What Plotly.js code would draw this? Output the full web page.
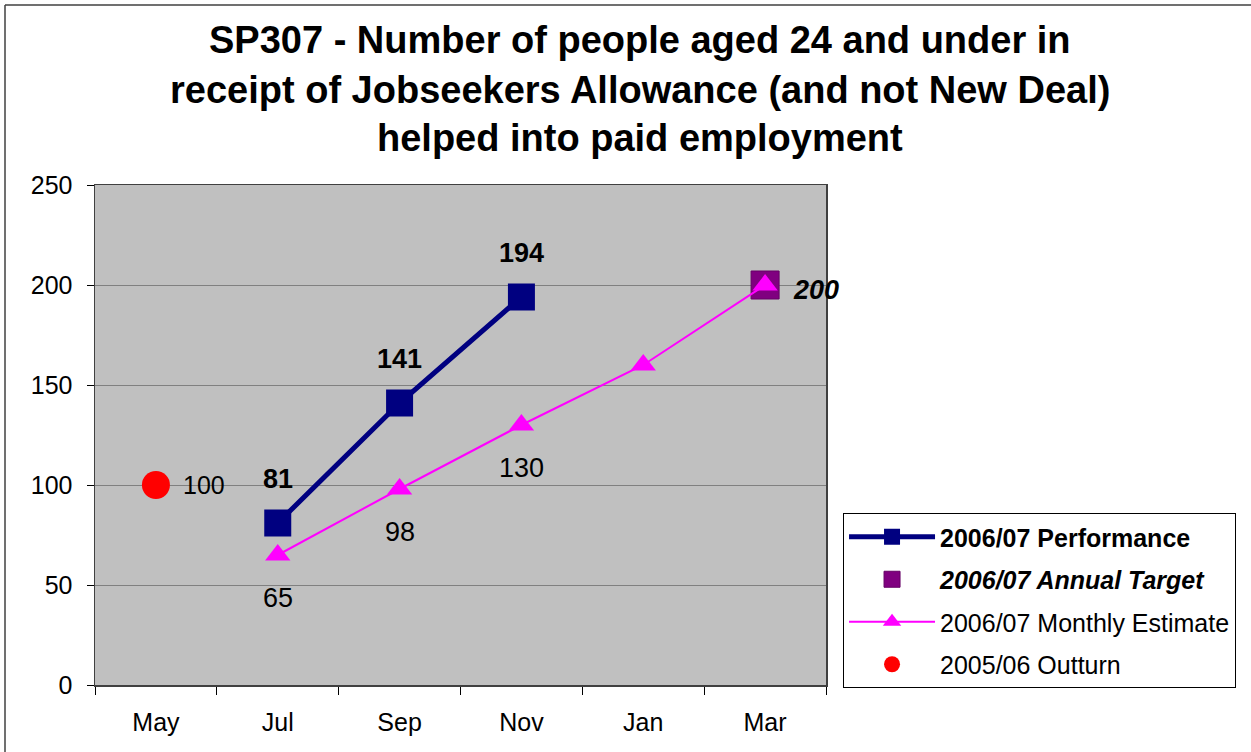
<!DOCTYPE html>
<html>
<head>
<meta charset="utf-8">
<script src="https://cdn.plot.ly/plotly-3.0.1.min.js"></script>
<style>
  html, body { margin: 0; padding: 0; background: #fff; }
  #chart { width: 1251px; height: 752px; }
</style>
</head>
<body>
<div id="chart"></div>
<script>
// ---- data ----
const months = ["May", "Jul", "Sep", "Nov", "Jan", "Mar"];
const perfMonths = ["Jul", "Sep", "Nov"];
const perfValues = [81, 141, 194];
const targetMonths = ["Mar"];
const targetValues = [200];
const estMonths = ["Jul", "Sep", "Nov", "Jan", "Mar"];
const estValues = [65, 98, 130, 160, 200];
const estLabelled = [true, true, true, false, false];
const outturnMonths = ["May"];
const outturnValues = [100];
const titleLines = [
  "SP307 - Number of people aged 24 and under in",
  "receipt of Jobseekers Allowance (and not New Deal)",
  "helped into paid employment"
];
const seriesNames = ["<b>2006/07 Performance</b>", "<b><i>2006/07 Annual Target</i></b>", "2006/07 Monthly Estimate", "2005/06 Outturn"];

const FONT = "Arial, 'Liberation Sans', sans-serif";

const traces = [
  {
    x: perfMonths, y: perfValues, name: seriesNames[0], type: "scatter", mode: "lines+markers",
    line: { color: "#000080", width: 5 },
    marker: { symbol: "square", size: 27, color: "#000080" },
    legendgroup: "a", cliponaxis: false
  },
  {
    x: targetMonths, y: targetValues, name: seriesNames[1], type: "scatter", mode: "markers",
    marker: { symbol: "square", size: 28, color: "#800080", line: { color: "#660066", width: 1 } },
    legendgroup: "b", cliponaxis: false
  },
  {
    x: estMonths, y: estValues, name: seriesNames[2], type: "scatter", mode: "lines+markers",
    line: { color: "#FF00FF", width: 2 },
    marker: { symbol: "triangle-up", size: 22, color: "#FF00FF" },
    legendgroup: "c", cliponaxis: false
  },
  {
    x: outturnMonths, y: outturnValues, name: seriesNames[3], type: "scatter", mode: "markers",
    marker: { symbol: "circle", size: 28, color: "#FF0000" },
    legendgroup: "d", cliponaxis: false
  }
];

const LBL = 27;
const annotations = [];
perfMonths.forEach((m, i) => annotations.push({
  x: m, y: perfValues[i], xref: "x", yref: "y", text: "<b>" + perfValues[i] + "</b>",
  showarrow: false, yshift: 44, font: { family: FONT, size: LBL, color: "#000" }
}));
estMonths.forEach((m, i) => { if (estLabelled[i]) annotations.push({
  x: m, y: estValues[i], xref: "x", yref: "y", text: String(estValues[i]),
  showarrow: false, yshift: -43, font: { family: FONT, size: LBL, color: "#000" }
}); });
targetMonths.forEach((m, i) => annotations.push({
  x: m, y: targetValues[i], xref: "x", yref: "y", text: "<b><i>" + targetValues[i] + "</i></b>",
  showarrow: false, xshift: 51, yshift: -5, font: { family: FONT, size: LBL, color: "#000" }
}));
outturnMonths.forEach((m, i) => annotations.push({
  x: m, y: outturnValues[i], xref: "x", yref: "y", text: String(outturnValues[i]),
  showarrow: false, xshift: 48, yshift: 0, font: { family: FONT, size: 25, color: "#000" }
}));
const titleY = [1.29, 1.19, 1.094];
titleLines.forEach((t, i) => annotations.push({
  x: 0.7456, y: titleY[i], xref: "paper", yref: "paper", text: "<b>" + t + "</b>",
  showarrow: false, xanchor: "center", yanchor: "middle",
  font: { family: FONT, size: 38, color: "#000" }
}));

const layout = {
  width: 1251, height: 752,
  margin: { l: 95, r: 425, t: 185, b: 67, pad: 0 },
  paper_bgcolor: "#ffffff",
  plot_bgcolor: "#c0c0c0",
  font: { family: FONT, size: 25, color: "#000" },
  showlegend: true,
  legend: {
    x: 1.0233, y: 0.344, xanchor: "left", yanchor: "top",
    bgcolor: "#ffffff", bordercolor: "#000000", borderwidth: 1,
    font: { family: FONT, size: 25, color: "#000" },
    tracegroupgap: 7, itemwidth: 86, traceorder: "grouped"
  },
  xaxis: {
    type: "category", categoryorder: "array", categoryarray: months,
    range: [-0.5, 5.5], tickson: "boundaries",
    ticks: "outside", ticklen: 8, tickcolor: "#000", tickwidth: 1,
    showline: true, linecolor: "#404040", linewidth: 1.5, mirror: true,
    showgrid: false, zeroline: false, ticklabelstandoff: 14,
    tickfont: { family: FONT, size: 25, color: "#000" }
  },
  yaxis: {
    range: [0, 250], dtick: 50, tick0: 0,
    ticks: "outside", ticklen: 7, tickcolor: "#000", tickwidth: 1,
    showline: true, linecolor: "#404040", linewidth: 1.5, mirror: true,
    showgrid: true, gridcolor: "#808080", gridwidth: 1, zeroline: false,
    ticklabelstandoff: 9,
    tickfont: { family: FONT, size: 25, color: "#000" }
  },
  annotations: annotations,
  shapes: [
    { type: "line", xref: "paper", yref: "paper", x0: (5 - 95) / 731, x1: (1260 - 95) / 731,
      y0: (685 - 5) / 500, y1: (685 - 5) / 500, line: { color: "#404040", width: 1.5 } },
    { type: "line", xref: "paper", yref: "paper", x0: (5 - 95) / 731, x1: (5 - 95) / 731,
      y0: (685 - 5) / 500, y1: (685 - 760) / 500, line: { color: "#404040", width: 1.5 } }
  ]
};

Plotly.newPlot("chart", traces, layout, { displayModeBar: false, staticPlot: true });
</script>
</body>
</html>
